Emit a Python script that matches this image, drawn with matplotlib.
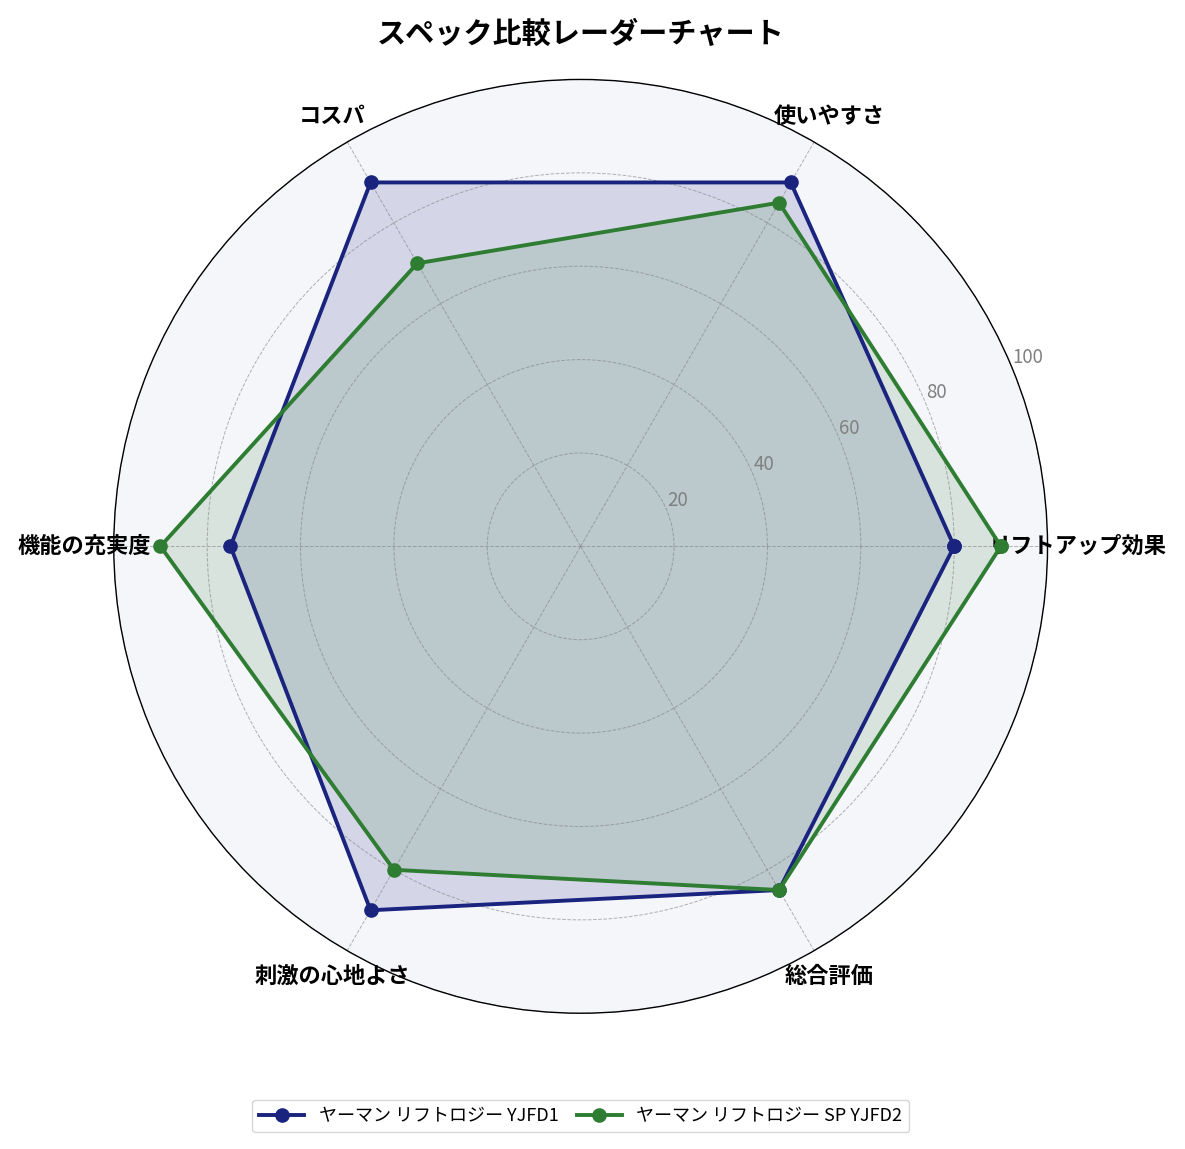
import numpy as np
import matplotlib
matplotlib.use('Agg')
import matplotlib.pyplot as plt

plt.rcParams['font.family'] = ['Noto Sans CJK JP', 'DejaVu Sans']

categories = ['リフトアップ効果', '使いやすさ', 'コスパ', '機能の充実度', '刺激の心地よさ', '総合評価']
series_names = ['ヤーマン リフトロジー YJFD1', 'ヤーマン リフトロジー SP YJFD2']
values_1 = [80, 90, 90, 75, 90, 85]
values_2 = [90, 85, 70, 90, 80, 85]
colors = ['#1a237e', '#2e7d32']
r_ticks = [20, 40, 60, 80, 100]

n = len(categories)
angles = np.linspace(0, 2 * np.pi, n, endpoint=False).tolist()
angles += angles[:1]

fig = plt.figure(figsize=(11.85, 11.49), dpi=100)
ax = fig.add_axes([0.096, 0.118, 0.788, 0.813], polar=True)
ax.set_facecolor('#f5f6fa')

for vals, name, c in zip([values_1, values_2], series_names, colors):
    v = vals + vals[:1]
    ax.plot(angles, v, color=c, linewidth=2.8, marker='o', markersize=9.5, label=name)
    ax.fill(angles, v, color=c, alpha=0.15)

ax.set_ylim(0, 100)
ax.set_yticks(r_ticks)
ax.set_yticklabels([str(t) for t in r_ticks], color='gray', fontsize=13.5)
ax.set_rlabel_position(22.5)
ax.set_xticks(angles[:-1])
ax.set_xticklabels(categories, fontsize=16, fontweight='bold')
ax.tick_params(axis='x', pad=11)
ax.grid(color='gray', linestyle='--', linewidth=0.7, alpha=0.6)
ax.spines['polar'].set_color('black')
ax.spines['polar'].set_linewidth(1)

ax.set_title('スペック比較レーダーチャート', fontsize=21, fontweight='bold', pad=26)
ax.legend(loc='center', bbox_to_anchor=(0.5, -0.110), ncol=2, fontsize=13,
          handlelength=2.5, columnspacing=1.0)

fig.savefig('out.png', dpi=100)
